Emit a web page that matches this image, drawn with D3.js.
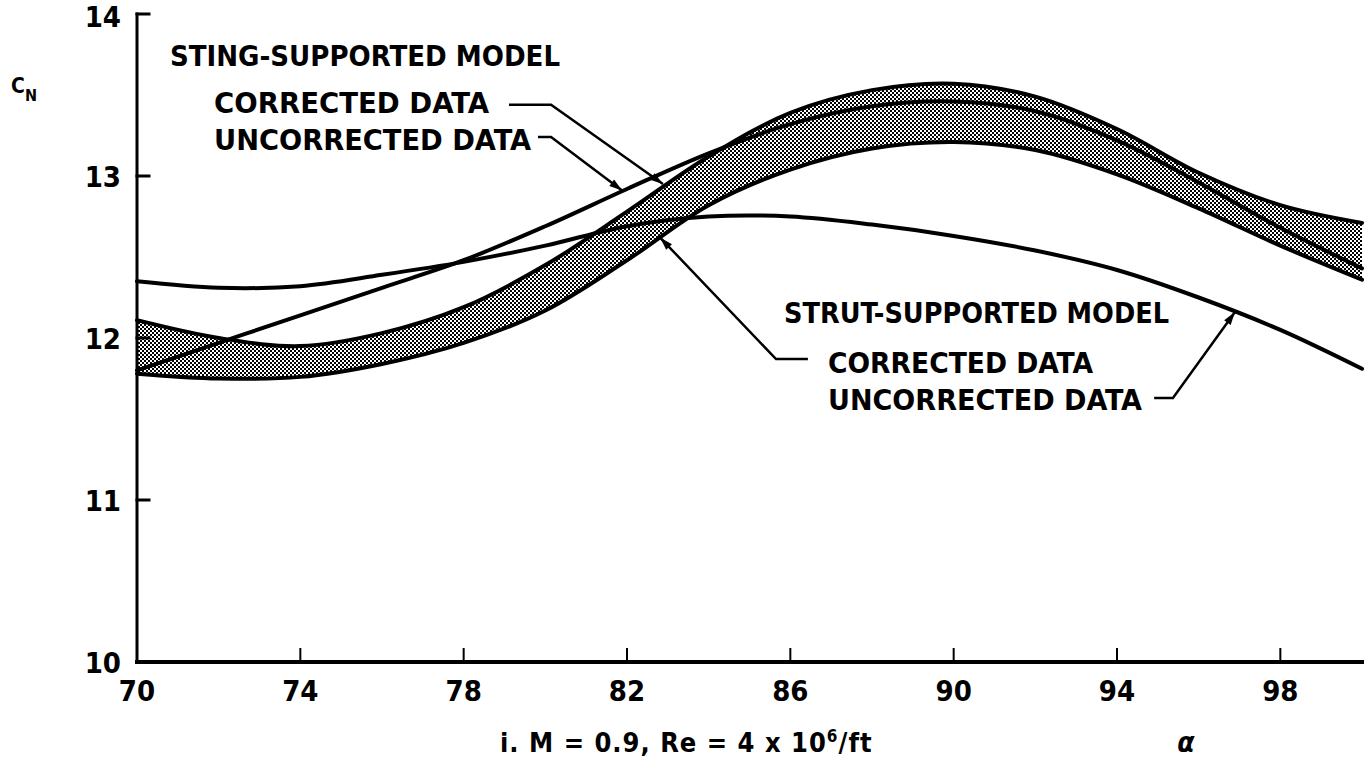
<!DOCTYPE html>
<html>
<head>
<meta charset="utf-8">
<script src="https://cdn.jsdelivr.net/npm/d3@7"></script>
<style>
  html, body { margin: 0; padding: 0; background: #fff; }
  svg { display: block; }
  .lbl { font-family: "Liberation Sans Narrow", "DejaVu Sans Condensed", "Liberation Sans", sans-serif; font-weight: bold; fill: #000; }
</style>
</head>
<body>
<script>
// angle of attack (deg)
var alpha = [70, 72, 74, 76, 78, 80, 82, 84, 86, 88, 90, 92, 94, 96, 98, 100];

// sting-supported model
var stingCorrected   = [12.11, 12.00, 11.95, 12.03, 12.19, 12.45, 12.78, 13.12, 13.39, 13.53, 13.57, 13.49, 13.29, 13.02, 12.82, 12.71];
var stingUncorrected = [11.80, 11.97, 12.14, 12.31, 12.48, 12.69, 12.92, 13.14, 13.32, 13.43, 13.46, 13.40, 13.22, 12.96, 12.68, 12.43];

// strut-supported model
var strutCorrected   = [11.78, 11.75, 11.76, 11.84, 11.97, 12.17, 12.48, 12.82, 13.04, 13.17, 13.21, 13.16, 13.01, 12.80, 12.57, 12.36];
var strutUncorrected = [12.35, 12.31, 12.32, 12.39, 12.47, 12.57, 12.69, 12.75, 12.75, 12.70, 12.63, 12.54, 12.42, 12.25, 12.05, 11.81];

var xTicks = [70, 74, 78, 82, 86, 90, 94, 98];
var yTicks = [10, 11, 12, 13, 14];

// leader lines: [alpha, CN] points, last one is the arrow tip
var leaders = [
  [[79.11, 13.44], [80.14, 13.44], [82.88, 12.95]],
  [[79.82, 13.24], [80.14, 13.24], [81.88, 12.91]],
  [[86.43, 11.87], [85.65, 11.87], [82.81, 12.62]],
  [[94.91, 11.63], [95.37, 11.63], [96.89, 12.16]]
];

var width = 1365, height = 759;
var svg = d3.select("body").append("svg").attr("width", width).attr("height", height);

var x = d3.scaleLinear().domain([70, 100]).range([137, 1362]);
var y = d3.scaleLinear().domain([10, 14]).range([662, 14]);

// halftone fill for the band
var defs = svg.append("defs");
var pat = defs.append("pattern").attr("id", "dots")
  .attr("patternUnits", "userSpaceOnUse").attr("width", 4).attr("height", 4);
pat.append("rect").attr("width", 4).attr("height", 4).attr("fill", "#fff");
pat.append("rect").attr("x", 0).attr("y", 0).attr("width", 2).attr("height", 2).attr("fill", "#000");
pat.append("rect").attr("x", 2).attr("y", 2).attr("width", 2).attr("height", 2).attr("fill", "#000");

var band = alpha.map(function(a, i){ return {a: a, hi: stingCorrected[i], lo: strutCorrected[i]}; });

svg.append("path").datum(band)
  .attr("d", d3.area().curve(d3.curveCatmullRom)
    .x(function(d){ return x(d.a); })
    .y0(function(d){ return y(d.lo); })
    .y1(function(d){ return y(d.hi); }))
  .attr("fill", "url(#dots)");

var line = d3.line().curve(d3.curveCatmullRom)
  .x(function(d){ return x(d[0]); })
  .y(function(d){ return y(d[1]); });

[stingCorrected, strutCorrected, stingUncorrected, strutUncorrected].forEach(function(s){
  svg.append("path").datum(alpha.map(function(a, i){ return [a, s[i]]; }))
    .attr("d", line)
    .attr("fill", "none").attr("stroke", "#000").attr("stroke-width", 4)
    .attr("stroke-linecap", "round").attr("stroke-linejoin", "round");
});

// axes
var ax = svg.append("g").attr("stroke", "#000").attr("stroke-linecap", "square");
ax.append("line").attr("x1", x(70)).attr("x2", x(70)).attr("y1", y(14)).attr("y2", y(10)).attr("stroke-width", 3);
ax.append("line").attr("x1", x(70)).attr("x2", x(100)).attr("y1", y(10)).attr("y2", y(10)).attr("stroke-width", 4);
ax.selectAll(".yt").data(yTicks.filter(function(d){ return d > 10; })).enter().append("line")
  .attr("x1", x(70)).attr("x2", x(70) + 12)
  .attr("y1", function(d){ return y(d); }).attr("y2", function(d){ return y(d); })
  .attr("stroke-width", 3);
ax.selectAll(".xt").data(xTicks.filter(function(d){ return d > 70; })).enter().append("line")
  .attr("x1", function(d){ return x(d); }).attr("x2", function(d){ return x(d); })
  .attr("y1", y(10)).attr("y2", y(10) - 13)
  .attr("stroke-width", 2);

svg.selectAll(".ytl").data(yTicks).enter().append("text").attr("class", "lbl")
  .attr("x", 121).attr("y", function(d){ return Math.max(y(d) + 11, 27); })
  .attr("text-anchor", "end").attr("font-size", 29)
  .text(function(d){ return d; });

svg.selectAll(".xtl").data(xTicks).enter().append("text").attr("class", "lbl")
  .attr("x", function(d){ return x(d); }).attr("y", y(10) + 39)
  .attr("text-anchor", "middle").attr("font-size", 29)
  .text(function(d){ return d; });

// axis titles
var cn = svg.append("text").attr("class", "lbl").attr("x", 11).attr("y", 93).attr("font-size", 21);
cn.append("tspan").text("C");
cn.append("tspan").attr("font-size", 16).attr("dy", 8).text("N");

svg.append("text").attr("class", "lbl").attr("x", 1186).attr("y", 752)
  .attr("text-anchor", "middle").attr("font-size", 28).attr("font-style", "italic").text("α");

var cap = svg.append("text").attr("class", "lbl").attr("x", 500).attr("y", 752)
  .attr("font-size", 27).attr("letter-spacing", 1);
cap.append("tspan").text("i.  M = 0.9, Re = 4 x 10");
cap.append("tspan").attr("font-size", 17).attr("dy", -10).text("6");
cap.append("tspan").attr("dy", 10).text("/ft");

// annotation texts
var notes = [
  {t: "STING-SUPPORTED MODEL", x: 170, y: 66, w: 390},
  {t: "CORRECTED DATA", x: 214, y: 113, w: 275},
  {t: "UNCORRECTED DATA", x: 214, y: 150, w: 317},
  {t: "STRUT-SUPPORTED MODEL", x: 784, y: 323, w: 385},
  {t: "CORRECTED DATA", x: 828, y: 373, w: 265},
  {t: "UNCORRECTED DATA", x: 828, y: 410, w: 314}
];
svg.selectAll(".note").data(notes).enter().append("text").attr("class", "lbl")
  .attr("x", function(d){ return d.x; }).attr("y", function(d){ return d.y; })
  .attr("font-size", 29)
  .attr("textLength", function(d){ return d.w; }).attr("lengthAdjust", "spacingAndGlyphs")
  .text(function(d){ return d.t; });

var ll = d3.line().x(function(d){ return x(d[0]); }).y(function(d){ return y(d[1]); });
leaders.forEach(function(p){
  svg.append("path").attr("d", ll(p)).attr("fill", "none").attr("stroke", "#000").attr("stroke-width", 2.5);
  var a = p[p.length - 2], b = p[p.length - 1];
  var x1 = x(a[0]), y1 = y(a[1]), x2 = x(b[0]), y2 = y(b[1]);
  var ang = Math.atan2(y2 - y1, x2 - x1);
  var L = 13, W = 4;
  var bx = x2 - L * Math.cos(ang), by = y2 - L * Math.sin(ang);
  var pts = [[x2, y2],
    [bx + W * Math.sin(ang), by - W * Math.cos(ang)],
    [bx - W * Math.sin(ang), by + W * Math.cos(ang)]];
  svg.append("polygon").attr("points", pts.map(function(q){ return q.join(","); }).join(" ")).attr("fill", "#000");
});
</script>
</body>
</html>
